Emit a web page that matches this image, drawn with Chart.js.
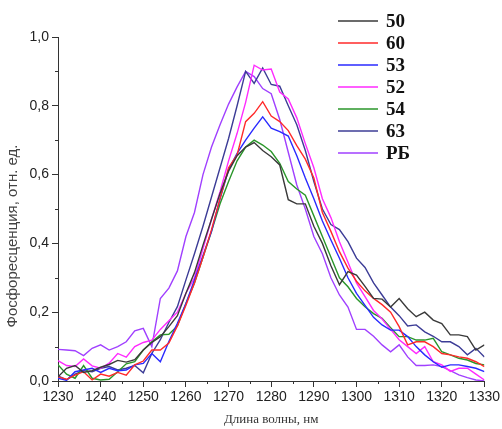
<!DOCTYPE html>
<html>
<head>
<meta charset="utf-8">
<script src="https://cdn.jsdelivr.net/npm/chart.js@4.4.0/dist/chart.umd.min.js"></script>
<style>
html, body { margin: 0; padding: 0; background: #fff; }
#wrap { width: 502px; height: 429px; }
</style>
</head>
<body>
<div id="wrap"><canvas id="spectra" width="502" height="429"></canvas></div>
<script>
// wavelength, nm
const wavelengths = [1230, 1232, 1234, 1236, 1238, 1240, 1242, 1244, 1246, 1248,
    1250, 1252, 1254, 1256, 1258, 1260, 1262, 1264, 1266, 1268,
    1270, 1272, 1274, 1276, 1278, 1280, 1282, 1284, 1286, 1288,
    1290, 1292, 1294, 1296, 1298, 1300, 1302, 1304, 1306, 1308,
    1310, 1312, 1314, 1316, 1318, 1320, 1322, 1324, 1326, 1328, 1330];

const s50 = [.012, .037, .045, .025, .030, .040, .048, .060, .055, .062,
    .090, .112, .129, .158, .190, .255, .315, .395, .470, .545,
    .610, .655, .680, .693, .670, .652, .628, .527, .515, .515,
    .450, .400, .335, .280, .318, .308, .275, .240, .238, .215,
    .240, .210, .187, .200, .177, .167, .134, .134, .129, .090, .105];

const s60 = [.012, .005, .017, .027, .003, .020, .014, .025, .017, .047,
    .058, .090, .090, .110, .160, .220, .285, .360, .440, .530,
    .620, .657, .754, .778, .812, .770, .754, .728, .684, .645,
    .590, .490, .435, .376, .328, .290, .262, .240, .222, .200,
    .158, .105, .114, .114, .100, .080, .076, .070, .066, .056, .042];

const s53 = [.008, .002, .027, .032, .037, .025, .037, .030, .032, .047,
    .051, .080, .056, .115, .168, .225, .294, .365, .435, .530,
    .615, .662, .700, .735, .768, .735, .725, .712, .655, .590,
    .530, .465, .410, .357, .300, .255, .220, .185, .163, .148,
    .148, .129, .100, .076, .056, .040, .047, .047, .042, .037, .027];

const s52 = [.059, .045, .042, .064, .044, .037, .052, .080, .069, .100,
    .112, .119, .150, .175, .200, .255, .300, .385, .470, .550,
    .640, .720, .810, .918, .904, .907, .840, .820, .765, .690,
    .620, .530, .475, .405, .345, .285, .245, .205, .180, .150,
    .120, .100, .080, .100, .056, .047, .028, .037, .037, .020, .003];

const s54 = [.047, .020, .008, .045, .008, .003, .005, .027, .050, .056,
    .090, .114, .134, .136, .160, .225, .285, .360, .435, .515,
    .580, .640, .680, .700, .686, .667, .633, .580, .558, .540,
    .480, .420, .360, .300, .274, .240, .216, .196, .182, .155,
    .129, .129, .119, .119, .124, .085, .076, .066, .061, .051, .047];

const s63 = [.015, .003, .020, .030, .027, .037, .042, .032, .037, .045,
    .024, .080, .120, .170, .216, .294, .370, .450, .535, .620,
    .705, .800, .900, .865, .910, .862, .857, .800, .745, .670,
    .580, .500, .455, .440, .405, .357, .330, .285, .250, .215,
    .190, .160, .163, .143, .130, .114, .114, .100, .076, .095, .070];

const sRB = [.092, .090, .088, .074, .095, .105, .090, .100, .114, .146,
    .153, .100, .240, .270, .320, .420, .490, .600, .680, .745,
    .805, .855, .900, .885, .850, .835, .760, .665, .570, .500,
    .420, .370, .300, .250, .215, .150, .150, .130, .105, .085,
    .105, .070, .045, .045, .047, .042, .030, .018, .010, .003, .000];

const seriesNames = ['50', '60', '53', '52', '54', '63', 'РБ'];
const seriesValues = [s50, s60, s53, s52, s54, s63, sRB];
const seriesColors = ['#3a3a3a', '#ff2a2a', '#2a2aff', '#ff2aff', '#2a962a', '#3c3c96', '#a040ff'];

const xMin = 1230, xMax = 1330, xStep = 10;
const yMin = 0, yMax = 1, yStep = 0.2;
const yTitle = 'Фосфоресценция, отн. ед.';

const sansFont = '"Liberation Sans", Arial, sans-serif';
const serifFont = '"Liberation Serif", "Times New Roman", serif';

function toPoints(values) {
    return values.map((v, i) => ({ x: wavelengths[i], y: v }));
}

// minor ticks, y title and legend drawn by hand
const extras = {
    id: 'extras',
    afterDraw: function(chart) {
        const ctx = chart.ctx, xs = chart.scales.x, ys = chart.scales.y;
        ctx.save();
        ctx.strokeStyle = '#333';
        ctx.lineWidth = 1;
        ctx.beginPath();
        for (let v = xMin + xStep / 2; v < xMax; v += xStep) {
            const px = Math.round(xs.getPixelForValue(v)) + 0.5;
            ctx.moveTo(px, ys.bottom);
            ctx.lineTo(px, ys.bottom + 3);
        }
        for (let v = yMin + yStep / 2; v < yMax; v += yStep) {
            const py = Math.round(ys.getPixelForValue(v)) + 0.5;
            ctx.moveTo(xs.left, py);
            ctx.lineTo(xs.left - 3, py);
        }
        ctx.stroke();

        // y axis title
        ctx.save();
        ctx.translate(13, 236);
        ctx.rotate(-Math.PI / 2);
        ctx.font = '15px ' + sansFont;
        ctx.fillStyle = '#444';
        ctx.textAlign = 'center';
        ctx.textBaseline = 'middle';
        ctx.fillText(yTitle, 0, 0);
        ctx.restore();

        ctx.font = 'bold 19px ' + serifFont;
        ctx.textBaseline = 'middle';
        ctx.textAlign = 'left';
        chart.data.datasets.forEach((d, i) => {
            const y = 21 + i * 22;
            ctx.strokeStyle = d.borderColor;
            ctx.lineWidth = 1.5;
            ctx.beginPath();
            ctx.moveTo(338, y);
            ctx.lineTo(378, y);
            ctx.stroke();
            ctx.fillStyle = '#111';
            ctx.fillText(d.label, 386, y + 1);
        });
        ctx.restore();
    }
};

const chart = new Chart(document.getElementById('spectra'), {
    type: 'line',
    data: {
        datasets: seriesNames.map((name, i) => ({
            label: name,
            data: toPoints(seriesValues[i]),
            borderColor: seriesColors[i],
            borderWidth: 1.4,
            pointRadius: 0,
            tension: 0,
            fill: false
        }))
    },
    options: {
        responsive: false,
        animation: false,
        layout: { padding: { top: 37, right: 17, left: 0, bottom: 0 } },
        plugins: {
            legend: { display: false },
            tooltip: { enabled: false }
        },
        scales: {
            x: {
                type: 'linear',
                min: xMin,
                max: xMax,
                afterFit: function(s) { s.height = 48; },
                border: { display: true, color: '#333', width: 1 },
                grid: { drawOnChartArea: false, drawTicks: true, tickLength: 6, color: '#333' },
                ticks: {
                    stepSize: xStep,
                    padding: 2,
                    color: '#222',
                    font: { family: sansFont, size: 14 },
                    maxRotation: 0,
                    callback: v => String(v)
                },
                title: {
                    display: true,
                    text: 'Длина волны, нм',
                    color: '#333',
                    font: { family: serifFont, size: 13 },
                    padding: { top: 0, bottom: 2 }
                }
            },
            y: {
                min: yMin,
                max: yMax,
                afterFit: function(s) { s.width = 58; },
                border: { display: true, color: '#333', width: 1 },
                grid: { drawOnChartArea: false, drawTicks: true, tickLength: 6, color: '#333' },
                ticks: {
                    stepSize: yStep,
                    padding: 3,
                    color: '#222',
                    font: { family: sansFont, size: 14 },
                    callback: v => v.toFixed(1).replace('.', ',')
                }
            }
        }
    },
    plugins: [extras]
});
</script>
</body>
</html>
